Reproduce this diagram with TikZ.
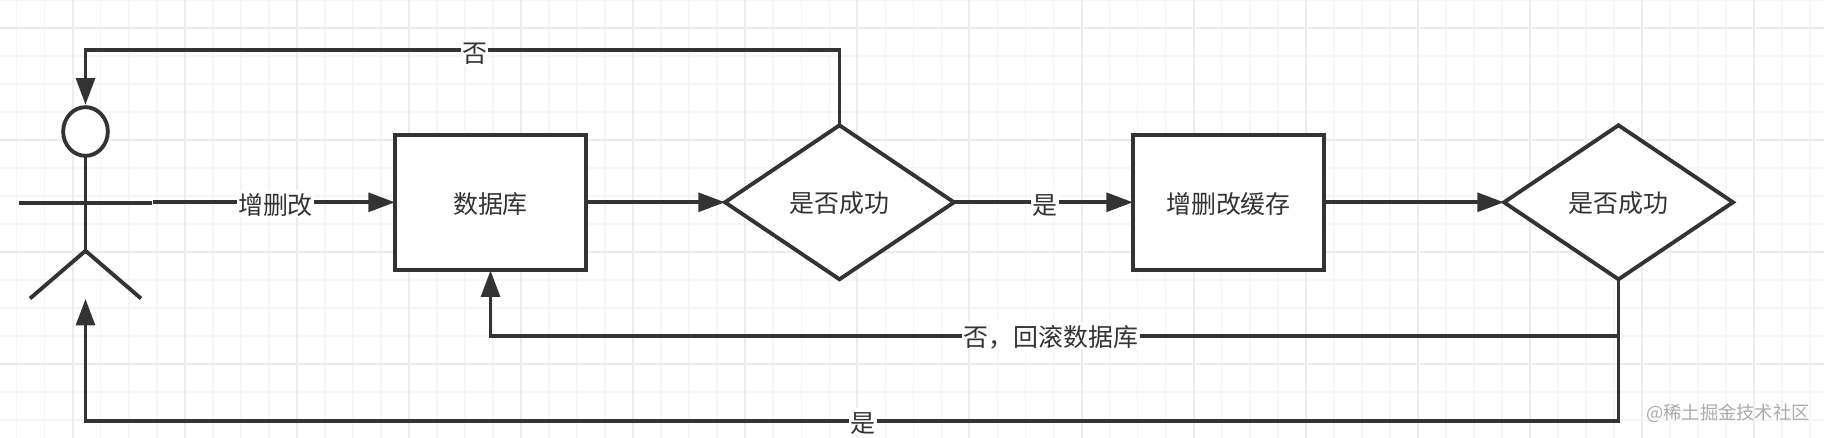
\documentclass[tikz,border=0pt]{standalone}
\usepackage{fontspec}
\setmainfont{Noto Sans CJK SC}
\usetikzlibrary{arrows.meta,shapes.geometric}
\definecolor{ink}{HTML}{333333}
\definecolor{gridminor}{HTML}{F6F6F6}
\definecolor{gridmajor}{HTML}{ECECEC}
\definecolor{mark}{HTML}{ABABAB}
\tikzset{
  stroke/.style={draw=ink,line width=2.9pt},
  conn/.style={stroke,-{Triangle[length=20pt,width=14pt]}},
  plain/.style={stroke},
  cjk/.style={text=ink,font=\fontsize{18.7pt}{20pt}\selectfont,text height=17pt,text depth=1pt},
  boxnode/.style={stroke,fill=white,rectangle,outer sep=0pt,inner sep=0pt,minimum width=143.25pt,minimum height=101.25pt,cjk},
  decnode/.style={stroke,fill=white,diamond,outer sep=0pt,inner sep=0pt,minimum width=171.75pt,minimum height=115.5pt,cjk},
  lbl/.style={fill=white,inner sep=1pt,cjk},
  headnode/.style={stroke,fill=white,ellipse,outer sep=0pt,inner sep=0pt,minimum width=33.5pt,minimum height=36.5pt},
}
\begin{document}
\begin{tikzpicture}[x=0.75pt,y=-0.75pt]
\useasboundingbox (0,0) rectangle (1824,438);
\fill[white] (0,0) rectangle (1824,438);
% grid
\foreach \k in {0,...,65}{
  \pgfmathsetmacro{\gx}{16.6+28.025*\k}
  \draw[gridminor,line width=1.2pt] (\gx,0) -- (\gx,438);
}
\foreach \k in {0,...,15}{
  \pgfmathsetmacro{\gy}{0+28*\k}
  \draw[gridminor,line width=1.2pt] (0,\gy) -- (1824,\gy);
}
\foreach \k in {0,...,15}{
  \pgfmathsetmacro{\gx}{72.6+112.1*\k}
  \draw[gridmajor,line width=1.5pt] (\gx,0) -- (\gx,438);
}
\foreach \k in {0,...,3}{
  \pgfmathsetmacro{\gy}{28+112*\k}
  \draw[gridmajor,line width=1.5pt] (0,\gy) -- (1824,\gy);
}
\begin{scope}[yshift=-0.6pt]
% nodes
\node[boxnode] (db) at (490.5,202) {数据库};
\node[boxnode] (cache) at (1228.5,202) {增删改缓存};
\node[decnode] (dec1) at (839.5,201.5) {是否成功};
\node[decnode] (dec2) at (1618.5,201.5) {是否成功};
% person
\node[headnode] (head) at (85.5,130.7) {};
\coordinate (crotch) at (85.5,250);
\coordinate (armL) at (19,202.3);
\coordinate (armR) at (152,202.3);
\coordinate (legL) at (30,297.7);
\coordinate (legR) at (141,297.7);
\draw[plain] (head.south) -- (crotch);
\draw[plain] (armL) -- (armR);
\draw[plain,miter limit=1] (legL) -- (crotch) -- (legR);
% connector ends
\coordinate (actorOut) at (153,201.5);
\coordinate (headIn) at (85.5,104);
\coordinate (footIn) at (85.5,298);
\coordinate (topRail) at (85.5,49);
\coordinate (midRail) at (490.5,335);
\coordinate (botRail) at (85.5,420);
\coordinate (split) at (dec2.south |- midRail);
% connectors
\draw[conn] (actorOut) -- (db.west |- actorOut);
\draw[conn] (db.east |- dec1.west) -- (dec1.west);
\draw[conn] (dec1.east) -- (cache.west |- dec1.east);
\draw[conn] (cache.east |- dec2.west) -- (dec2.west);
\draw[conn] (dec1.north) |- (topRail) -- (headIn);
\draw[conn] (dec2.south) |- (botRail) -- (footIn);
\draw[conn] (split) -- (midRail) -- (db.south);
% edge labels
\node[lbl] (l1) at (275.5,202.8) {增删改};
\node[lbl] (l2) at (474.5,51.5) {否};
\node[lbl] (l3) at (1045,202.8) {是};
\node[lbl] (l4) at (1051,335) {否，回滚数据库};
\node[lbl] (l5) at (863,421) {是};
\node[text=mark,inner sep=0pt,font=\fontsize{13.7pt}{16pt}\selectfont] (wm) at (1728,412.7) {@稀土掘金技术社区};
\end{scope}
\end{tikzpicture}
\end{document}
